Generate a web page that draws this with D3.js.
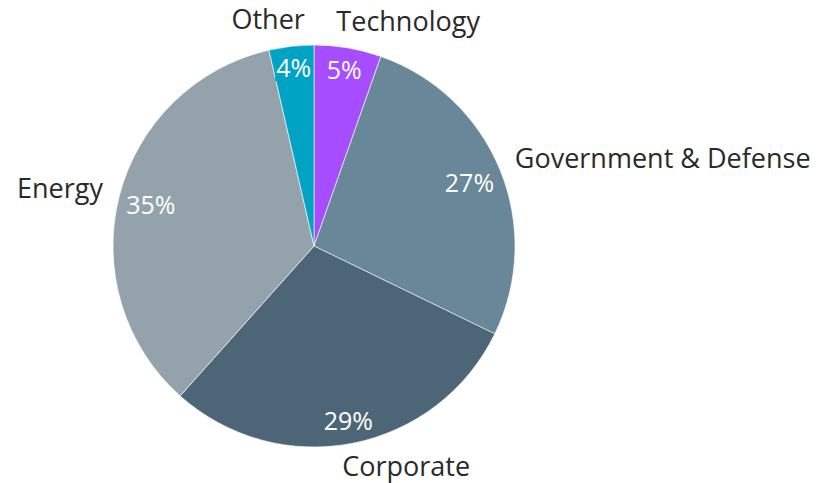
<!DOCTYPE html>
<html>
<head>
<meta charset="utf-8">
<script src="https://cdn.jsdelivr.net/npm/d3@7"></script>
<style>
  body { margin: 0; background: #fff; }
  svg { display: block; font-family: "Open Sans", Lato, sans-serif; }
</style>
</head>
<body>
<div id="chart"></div>
<script>
// slices, clockwise from 12 o'clock
const categories = ["Technology", "Government & Defense", "Corporate", "Energy", "Other"];
const shares = [5.4, 26.8, 29.4, 34.8, 3.6];
const colors = ["#a64eff", "#688799", "#4d6677", "#94a3ab", "#00a3c4"];

const width = 823, height = 483;
const cx = 314, cy = 246, radius = 201;

const data = categories.map((c, i) => ({name: c, value: shares[i], color: colors[i]}));
const total = d3.sum(shares);

const svg = d3.select("#chart").append("svg")
    .attr("width", width)
    .attr("height", height);

const g = svg.append("g")
    .attr("transform", "translate(" + cx + "," + cy + ")");

const pie = d3.pie().sort(null).value(d => d.value);
const arc = d3.arc().innerRadius(0).outerRadius(radius);
const arcs = pie(data);

g.selectAll(".slice")
    .data(arcs)
    .enter().append("path")
    .attr("class", "slice")
    .attr("d", arc)
    .attr("fill", d => d.data.color)
    .attr("stroke", "#fff")
    .attr("stroke-width", 0.6);

// percent labels inside, pushed out till the box touches the rim
const pct = g.selectAll(".pct")
    .data(arcs)
    .enter().append("g")
    .attr("class", "pct");

pct.append("rect").attr("fill", d => d.data.color);
pct.append("text")
    .attr("text-anchor", "middle")
    .attr("dominant-baseline", "central")
    .attr("fill", "#fff")
    .attr("font-size", 25)
    .text(d => Math.round(d.data.value / total * 100) + "%");

pct.each(function (d) {
    const sel = d3.select(this);
    const bb = sel.select("text").node().getBBox();
    const w = bb.width, h = bb.height * 0.75;
    const a = (d.startAngle + d.endAngle) / 2;
    const sx = Math.sin(a), sy = -Math.cos(a);
    const lim = radius - 5;
    let r = lim;
    for (; r > 0; r -= 0.5) {
        const x = sx * r, y = sy * r;
        const fx = x + Math.sign(sx) * w / 2, fy = y + Math.sign(sy) * h / 2;
        if (Math.hypot(fx, fy) <= lim) break;
    }
    sel.attr("transform", "translate(" + (sx * r) + "," + (sy * r) + ")");
    sel.select("rect")
        .attr("x", -w / 2 - 1).attr("y", -h / 2 - 2)
        .attr("width", w + 2).attr("height", h + 4);
});

// category labels outside
const outR = radius + 10;
g.selectAll(".name")
    .data(arcs)
    .enter().append("text")
    .attr("class", "name")
    .attr("font-size", 27)
    .attr("fill", "#2a2a2a")
    .attr("dominant-baseline", "central")
    .attr("text-anchor", d => Math.sin((d.startAngle + d.endAngle) / 2) >= 0 ? "start" : "end")
    .attr("x", d => {
        const s = Math.sin((d.startAngle + d.endAngle) / 2);
        return s * outR + Math.sign(s) * 25 * (Math.abs(s) - 0.7);
    })
    .attr("y", d => {
        const c = -Math.cos((d.startAngle + d.endAngle) / 2);
        return c * (outR + 13) + (c < 0 ? -3 - 1.5 * c * c : 0);
    })
    .text(d => d.data.name);
</script>
</body>
</html>
